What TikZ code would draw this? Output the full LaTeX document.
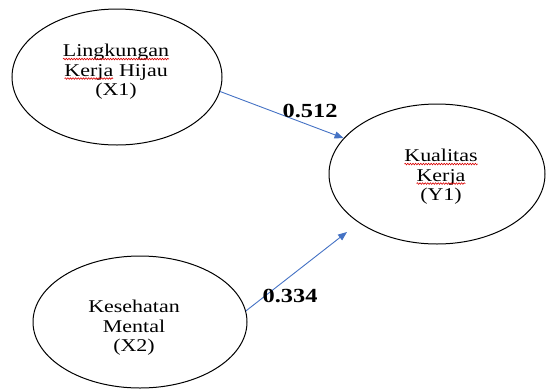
\documentclass[tikz,border=0pt]{standalone}
\usepackage{fontspec}
\setmainfont{Liberation Serif}[FakeStretch=1.22]
\usetikzlibrary{shapes.geometric,arrows.meta,decorations.pathmorphing}
\newcommand\squigword[1]{\tikz[baseline=(sqw.base),x=1pt,y=1pt]{\node[shape=rectangle,draw=none,minimum width=0pt,minimum height=0pt,inner sep=0pt,outer sep=0pt] (sqw) {#1};
  \draw[red!85!black, line width=0.6pt, decorate, decoration={snake, amplitude=0.8pt, segment length=2.6pt}]
   ([yshift=-2.2pt]sqw.base west) -- ([yshift=-2.2pt]sqw.base east);}}
\tikzset{
  var/.style={draw=black, line width=1pt, ellipse, inner sep=0pt},
  lbl/.style={inner sep=0pt, align=center, font=\fontsize{18}{19.5}\selectfont},
  path/.style={draw={rgb,255:red,68;green,114;blue,196}, line width=0.9pt,
    -{Triangle[length=9pt,width=7pt]}},
  coef/.style={font=\fontsize{20}{22}\selectfont\bfseries, inner sep=0pt}
}
\begin{document}
\begin{tikzpicture}[x=1pt,y=-1pt]
\useasboundingbox (0,0) rectangle (546,389);
\node[var, minimum width=210pt, minimum height=136pt] (X1) at (117,77) {};
\node[var, minimum width=216pt, minimum height=140pt] (Y1) at (437,174) {};
\node[var, minimum width=214pt, minimum height=132pt] (X2) at (140,322) {};
\node[lbl] (t1) at (116,72) {\squigword{Lingkungan}\\\squigword{Kerja} Hijau\\(X1)};
\node[lbl] (t3) at (441,177) {\squigword{Kualitas}\\\squigword{Kerja}\\(Y1)};
\node[lbl] (t2) at (134,328) {Kesehatan\\Mental\\(X2)};
\coordinate (e2) at (347,232);
\draw[path] (X1.-8) -- (Y1.159);
\draw[path] (X2.6) -- (e2);
\node[coef] (c1) at (310,111) {0.512};
\node[coef] (c2) at (290,296) {0.334};
\end{tikzpicture}
\end{document}
